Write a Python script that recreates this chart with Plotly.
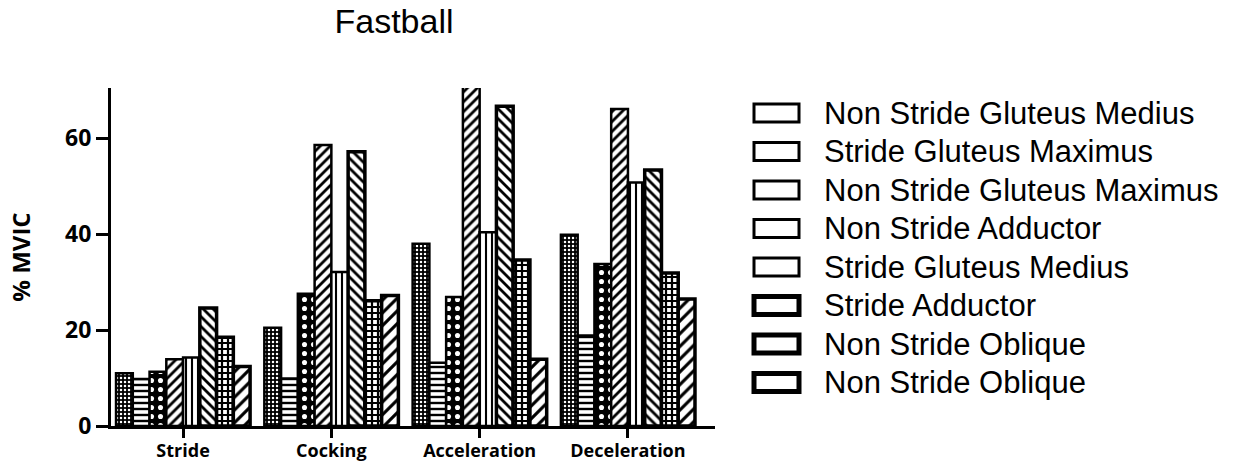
import plotly.graph_objects as go

phases = ["Stride", "Cocking", "Acceleration", "Deceleration"]
series_names = [
    "Non Stride Gluteus Medius",
    "Stride Gluteus Maximus",
    "Non Stride Gluteus Maximus",
    "Non Stride Adductor",
    "Stride Gluteus Medius",
    "Stride Adductor",
    "Non Stride Oblique",
    "Non Stride Oblique",
]
ns_glut_med = [11.0, 20.5, 38.0, 39.9]
s_glut_max = [9.8, 9.9, 13.2, 18.9]
ns_glut_max = [11.3, 27.6, 26.9, 33.8]
ns_adductor = [13.9, 58.6, 71.5, 66.1]
s_glut_med = [14.3, 32.1, 40.4, 50.8]
s_adductor = [24.6, 57.2, 66.7, 53.4]
ns_oblique_a = [18.5, 26.1, 34.6, 31.9]
ns_oblique_b = [12.4, 27.2, 13.9, 26.5]
series_values = [ns_glut_med, s_glut_max, ns_glut_max, ns_adductor,
                 s_glut_med, s_adductor, ns_oblique_a, ns_oblique_b]
y_ticks = [0, 20, 40, 60]

# pattern styles (shape, fg, bg, size, solidity, line width)
styles = [
    (".", "white", "black", 4, 0.3, 2.5),
    ("-", "black", "white", 6, 0.4, 2.5),
    (".", "white", "black", 9, 0.25, 2.5),
    ("/", "black", "white", 7, 0.4, 2.5),
    ("|", "black", "white", 6, 0.35, 2.5),
    ("\\", "black", "white", 7, 0.4, 3.5),
    ("+", "black", "white", 6, 0.6, 3.5),
    ("/", "black", "white", 9, 0.35, 3.5),
]

W, H = 1244, 467
L, R, T, B = 111, 715, 88, 426

fig = go.Figure()
for name, vals, st in zip(series_names, series_values, styles):
    shape, fg, bg, size, sol, lw = st
    fig.add_trace(go.Bar(
        x=phases, y=vals, name=name,
        marker=dict(
            color=bg,
            line=dict(color="black", width=lw),
            pattern=dict(shape=shape, fgcolor=fg, bgcolor=bg, size=size,
                         solidity=sol, fillmode="replace", fgopacity=1),
        ),
        showlegend=False,
    ))

# manual legend (white boxes + labels)
def px_x(p):
    return (p - L) / (R - L)

def px_y(p):
    return (B - p) / (B - T)

row0, dy = 113, 38.5
for i, name in enumerate(series_names):
    cy = row0 + dy * i
    lw = 3 if i < 5 else 5
    fig.add_shape(type="rect", xref="paper", yref="paper",
                  x0=px_x(754), x1=px_x(799), y0=px_y(cy - 9), y1=px_y(cy + 9),
                  line=dict(color="black", width=lw), fillcolor="white")
    fig.add_annotation(xref="paper", yref="paper", x=px_x(822), y=px_y(cy),
                       text=name, showarrow=False, xanchor="left", yanchor="middle",
                       font=dict(family="Liberation Sans, Arial", size=31, color="black"))

bold = dict(family="Open Sans", weight="bold", color="black")

fig.update_layout(
    width=W, height=H,
    margin=dict(l=L, r=W - R, t=T, b=H - B, autoexpand=False),
    paper_bgcolor="white", plot_bgcolor="white",
    barmode="group", bargap=0.096, bargroupgap=0,
    title=dict(text="Fastball", x=394 / W, xref="container", xanchor="center",
               y=1 - 21 / H, yref="container", yanchor="middle",
               font=dict(family="Liberation Sans, Arial", size=34, color="black")),
    xaxis=dict(
        type="category", range=[-0.486, 3.587], automargin=False,
        showline=True, linecolor="black", linewidth=3,
        ticks="outside", ticklen=9, tickwidth=3, tickcolor="black",
        ticklabelstandoff=-3,
        tickfont=dict(size=18, **bold), showgrid=False, zeroline=False,
    ),
    yaxis=dict(
        range=[0, 70.5], tickvals=y_ticks, automargin=False,
        showline=True, linecolor="black", linewidth=3,
        ticks="outside", ticklen=12, tickwidth=3, tickcolor="black",
        tickfont=dict(size=23, **bold), showgrid=False, zeroline=False,
        title=dict(text="% MVIC", font=dict(size=24, **bold), standoff=28),
    ),
)

fig.write_html("out.html")
